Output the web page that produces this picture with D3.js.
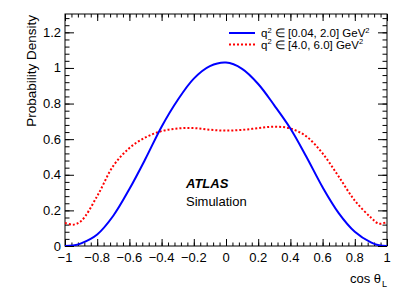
<!DOCTYPE html>
<html>
<head>
<meta charset="utf-8">
<script src="https://cdn.jsdelivr.net/npm/d3@7"></script>
<style>
  body { margin: 0; background: #fff; }
  svg { display: block; font-family: "Liberation Sans", Arial, sans-serif; }
</style>
</head>
<body>
<div id="chart"></div>
<script>
// cos theta_L grid and the two densities
const cosTheta = [-1, -0.95, -0.9, -0.8, -0.7, -0.6, -0.5, -0.4, -0.3, -0.2, -0.1, 0,
                  0.1, 0.2, 0.3, 0.4, 0.5, 0.6, 0.7, 0.8, 0.9, 0.95, 1];
const lowQ2 = [0, 0.003, 0.015, 0.065, 0.17, 0.32, 0.49, 0.67, 0.82, 0.94, 1.01, 1.03,
               0.995, 0.91, 0.79, 0.66, 0.50, 0.33, 0.185, 0.08, 0.02, 0.004, 0];
const midQ2 = [0.13, 0.12, 0.14, 0.28, 0.45, 0.55, 0.61, 0.645, 0.66, 0.662, 0.653, 0.648,
               0.652, 0.662, 0.67, 0.66, 0.615, 0.52, 0.39, 0.255, 0.16, 0.125, 0.135];

const xTicks = [-1, -0.8, -0.6, -0.4, -0.2, 0, 0.2, 0.4, 0.6, 0.8, 1];
const yTicks = [0, 0.2, 0.4, 0.6, 0.8, 1, 1.2];
const legendNames = ["[0.04, 2.0]", "[4.0, 6.0]"];

const width = 407, height = 294;
const pLeft = 65, pRight = 387, pTop = 14, pBottom = 246;

const x = d3.scaleLinear().domain([-1, 1]).range([pLeft, pRight]);
const y = d3.scaleLinear().domain([0, 1.303]).range([pBottom, pTop]);

const svg = d3.select("#chart").append("svg")
    .attr("width", width)
    .attr("height", height);

svg.append("defs").append("clipPath").attr("id", "clip")
  .append("rect")
    .attr("x", pLeft).attr("y", pTop)
    .attr("width", pRight - pLeft).attr("height", pBottom - pTop);

// minor ticks every 0.04
const xMinor = d3.range(-1, 1.0001, 0.04);
const yMinor = d3.range(0, 1.3, 0.04);

const fmt = d => d === 0 ? "0" : String(d).replace("-", "\u2212");

// bottom + top axes
svg.append("g").attr("transform", `translate(0,${pBottom})`)
    .call(d3.axisBottom(x).tickValues(xMinor).tickSize(-3.5).tickFormat(""));
svg.append("g").attr("transform", `translate(0,${pBottom})`)
    .call(d3.axisBottom(x).tickValues(xTicks).tickSize(-7).tickFormat(""));
svg.append("g").attr("transform", `translate(0,${pTop})`)
    .call(d3.axisTop(x).tickValues(xMinor).tickSize(-3.5).tickFormat(""));
svg.append("g").attr("transform", `translate(0,${pTop})`)
    .call(d3.axisTop(x).tickValues(xTicks).tickSize(-7).tickFormat(""));

// left + right axes
svg.append("g").attr("transform", `translate(${pLeft},0)`)
    .call(d3.axisLeft(y).tickValues(yMinor).tickSize(-4.5).tickFormat(""));
svg.append("g").attr("transform", `translate(${pLeft},0)`)
    .call(d3.axisLeft(y).tickValues(yTicks).tickSize(-9).tickFormat(""));
svg.append("g").attr("transform", `translate(${pRight},0)`)
    .call(d3.axisRight(y).tickValues(yMinor).tickSize(-4.5).tickFormat(""));
svg.append("g").attr("transform", `translate(${pRight},0)`)
    .call(d3.axisRight(y).tickValues(yTicks).tickSize(-9).tickFormat(""));

svg.selectAll(".domain").remove();
svg.selectAll(".tick line").attr("stroke", "#000").attr("stroke-width", 1);

// tick labels
svg.append("g").selectAll("text")
  .data(xTicks)
  .join("text")
    .attr("x", d => x(d))
    .attr("y", 262)
    .attr("text-anchor", "middle")
    .attr("font-size", 13)
    .text(fmt);

svg.append("g").selectAll("text")
  .data(yTicks)
  .join("text")
    .attr("x", 61)
    .attr("y", d => y(d))
    .attr("dy", "0.35em")
    .attr("text-anchor", "end")
    .attr("font-size", 13)
    .text(fmt);

// frame
svg.append("rect")
    .attr("x", pLeft).attr("y", pTop)
    .attr("width", pRight - pLeft).attr("height", pBottom - pTop)
    .attr("fill", "none")
    .attr("stroke", "#000")
    .attr("stroke-width", 1);

// curves
const line = (vals) => d3.line()
    .x((d, i) => x(cosTheta[i]))
    .y(d => y(d))
    .curve(d3.curveCatmullRom.alpha(0.5))(vals);

const curves = svg.append("g").attr("clip-path", "url(#clip)");
curves.append("path")
    .attr("d", line(midQ2))
    .attr("fill", "none")
    .attr("stroke", "#ff0000")
    .attr("stroke-width", 2)
    .attr("stroke-dasharray", "2,2");
curves.append("path")
    .attr("d", line(lowQ2))
    .attr("fill", "none")
    .attr("stroke", "#0000ff")
    .attr("stroke-width", 2);

// axis titles
svg.append("text")
    .attr("transform", "translate(36,15) rotate(-90)")
    .attr("text-anchor", "end")
    .attr("font-size", 13.5)
    .text("Probability Density");

svg.append("text")
    .attr("x", 381)
    .attr("y", 283)
    .attr("text-anchor", "end")
    .attr("font-size", 13)
    .text("cos \u03b8");
svg.append("text")
    .attr("x", 382)
    .attr("y", 287)
    .attr("font-size", 9)
    .text("L");

// legend
const legColors = ["#0000ff", "#ff0000"];
const legDash = [null, "2,2"];
const leg = svg.append("g");
legendNames.forEach((nm, i) => {
  const ly = 33 + i * 11.5;
  leg.append("line")
      .attr("x1", 229).attr("x2", 255)
      .attr("y1", ly).attr("y2", ly)
      .attr("stroke", legColors[i])
      .attr("stroke-width", 2)
      .attr("stroke-dasharray", legDash[i]);
  const t = leg.append("text")
      .attr("x", 261)
      .attr("y", ly + 4)
      .attr("font-size", 11.5);
  t.append("tspan").text("q");
  t.append("tspan").attr("font-size", 7.5).attr("dy", -4.5).text("2");
  t.append("tspan").attr("dy", 4.5).text(" \u2208 " + nm + " GeV");
  t.append("tspan").attr("font-size", 7.5).attr("dy", -4.5).text("2");
});

// ATLAS label
svg.append("text")
    .attr("x", 186)
    .attr("y", 188)
    .attr("font-size", 13)
    .attr("font-weight", "bold")
    .attr("font-style", "italic")
    .text("ATLAS");
svg.append("text")
    .attr("x", 186)
    .attr("y", 206)
    .attr("font-size", 13)
    .text("Simulation");
</script>
</body>
</html>
